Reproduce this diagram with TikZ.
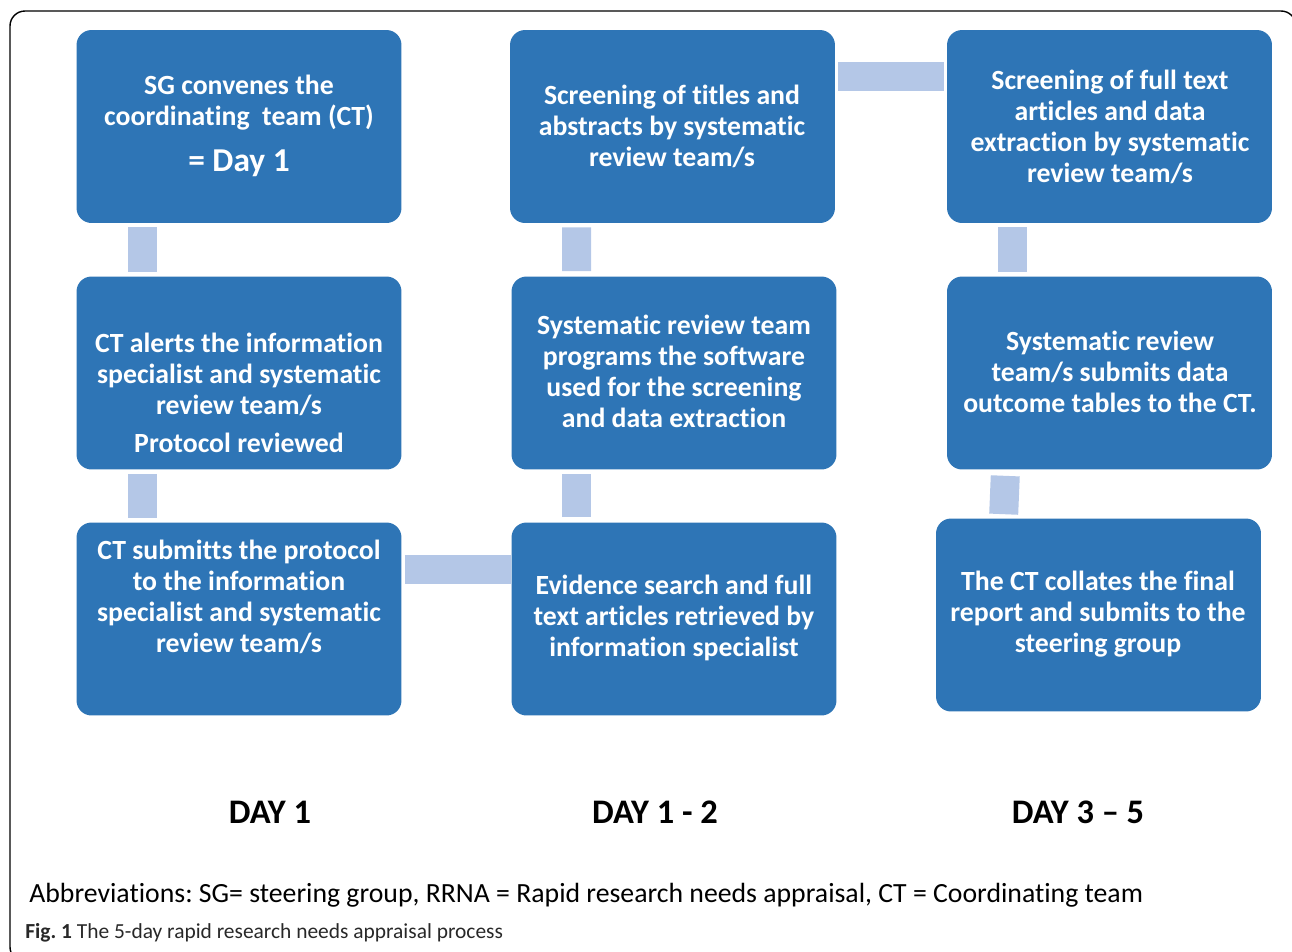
\documentclass[tikz,border=0pt]{standalone}
\usepackage{fontspec}
\setmainfont{Carlito}[Ligatures=NoCommon]
\frenchspacing
\definecolor{boxblue}{RGB}{46,117,182}
\definecolor{linkblue}{RGB}{180,199,231}
\definecolor{captiongray}{RGB}{40,40,40}

\begin{document}
\begin{tikzpicture}[x=0.02cm,y=-0.02cm]
 \tikzstyle{stepbox} = [fill=boxblue,rounded corners=0.3cm,minimum width=6.5cm,minimum height=3.86cm,inner sep=0]
 \tikzstyle{boxtext} = [text=white,font=\bfseries\fontsize{15.8}{17.6}\selectfont,align=center,inner sep=0]
 \tikzstyle{link} = [draw=linkblue,line width=0.58cm]
 \tikzstyle{daylabel} = [font=\bfseries\fontsize{19.6}{23}\selectfont,inner sep=0]

 \useasboundingbox (0,0) rectangle (1292,951);

% Frame (runs off the page on the right and bottom)
 \begin{scope}
  \clip (0,0) rectangle (1292,951);
  \draw[line width=0.8pt,rounded corners=0.3cm] (10,11) rectangle (1296,962);
 \end{scope}

% Boxes
 \node[stepbox] (sg)   at (239,126.5)  {};
 \node[stepbox] (alert) at (239,373)   {};
 \node[stepbox] (subm) at (239,619)    {};
 \node[stepbox] (scrt) at (672.5,126.5) {};
 \node[stepbox] (prog) at (674,373)    {};
 \node[stepbox] (srch) at (674,619)    {};
 \node[stepbox] (scrf) at (1109.5,126.5) {};
 \node[stepbox] (outc) at (1109.5,373) {};
 \node[stepbox] (fin)  at (1098.5,615) {};

% Box texts
 \node[boxtext] (sg-t) at (239,126) {SG convenes the\\coordinating~~team (CT)\\[9pt]{\fontsize{19}{20}\selectfont = Day 1}};
 \node[boxtext] (alert-t) at (239,393) {CT alerts the information\\specialist and systematic\\review team/s\\[4pt]Protocol reviewed};
 \node[boxtext] (subm-t) at (239,597) {CT submitts the protocol\\to the information\\specialist and systematic\\review team/s};
 \node[boxtext] (scrt-t) at (672,126) {Screening of titles and\\abstracts by systematic\\review team/s};
 \node[boxtext] (prog-t) at (674,371) {Systematic review team\\programs the software\\used for the screening\\and data extraction};
 \node[boxtext] (srch-t) at (674,618) {Evidence search and full\\text articles retrieved by\\information specialist};
 \node[boxtext] (scrf-t) at (1110,127) {Screening of full text\\articles and data\\extraction by systematic\\review team/s};
 \node[boxtext] (outc-t) at (1110,372) {Systematic review\\team/s submits data\\outcome tables to the CT.};
 \node[boxtext] (fin-t) at (1098,614) {The CT collates the final\\report and submits to the\\steering group};

% Links
 \draw[link,shorten <=0.08cm,shorten >=0.08cm] ([xshift=-1.94cm]sg.south) -- ([xshift=-1.94cm]alert.north);
 \draw[link,shorten <=0.08cm,shorten >=0.08cm] ([xshift=-1.94cm]alert.south) -- ([xshift=-1.94cm]subm.north);
 \draw[link,shorten <=0.06cm] ([yshift=1cm]subm.east) -- ([yshift=1cm]srch.west);
 \draw[link,shorten <=0.1cm,shorten >=0.08cm] ([xshift=-1.95cm]srch.north) -- ([xshift=-1.95cm]prog.south);
 \draw[link,shorten <=0.1cm,shorten >=0.08cm] ([xshift=-1.95cm]prog.north) -- ([xshift=-1.92cm]scrt.south);
 \draw[link,shorten <=0.06cm,shorten >=0.06cm] ([yshift=1cm]scrt.east) -- ([yshift=1cm]scrf.west);
 \draw[link,shorten <=0.08cm,shorten >=0.08cm] ([xshift=-1.94cm]scrf.south) -- ([xshift=-1.94cm]outc.north);
 \draw[link,shorten <=0.12cm,shorten >=0.08cm] ([xshift=-2.08cm]outc.south) -- ([xshift=-1.9cm]fin.north);

% Day labels
 \node[daylabel] (d1) at (270,812) {DAY 1};
 \node[daylabel] (d12) at (655,812) {DAY 1 - 2};
 \node[daylabel] (d35) at (1078,812) {DAY 3 -- 5};

% Abbreviations and caption
 \node[anchor=west,inner sep=0,font=\fontsize{15.8}{18}\selectfont] (abbr) at (29,895) {Abbreviations: SG= steering group, RRNA = Rapid research needs appraisal, CT = Coordinating team};
 \node[anchor=west,inner sep=0,text=captiongray,font=\fontsize{12.2}{14}\selectfont] (cap) at (25,933) {\textbf{Fig.\ 1} The 5-day rapid research needs appraisal process};

\end{tikzpicture}
\end{document}
